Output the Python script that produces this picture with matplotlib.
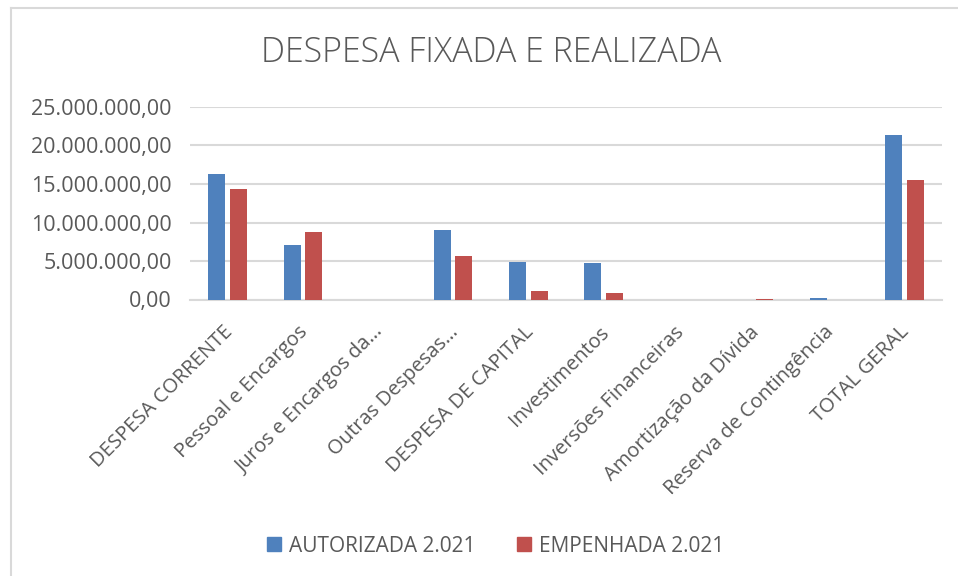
import matplotlib
matplotlib.use("Agg")
import matplotlib.pyplot as plt
from matplotlib.patches import Patch
from matplotlib.lines import Line2D
from matplotlib.transforms import ScaledTranslation
import numpy as np

categories = ["DESPESA CORRENTE", "Pessoal e Encargos", "Juros e Encargos da…",
              "Outras Despesas…", "DESPESA DE CAPITAL", "Investimentos",
              "Inversões Financeiras", "Amortização da Dívida",
              "Reserva de Contingência", "TOTAL GERAL"]
autorizada = [16.27e6, 7.14e6, 0.0, 9.04e6, 4.84e6, 4.71e6, 0.0, 0.0, 0.15e6, 21.3e6]
empenhada = [14.4e6, 8.74e6, 0.0, 5.71e6, 1.04e6, 0.86e6, 0.0, 0.05e6, 0.0, 15.5e6]
yticks = [0, 5e6, 10e6, 15e6, 20e6, 25e6]
series_names = ["AUTORIZADA 2.021", "EMPENHADA 2.021"]
title = "DESPESA FIXADA E REALIZADA"

BLUE = "#4F81BD"
RED = "#C0504D"
TXT = "#595959"
GRID = "#D9D9D9"

W, H = 958, 576
fig = plt.figure(figsize=(W / 100, H / 100), dpi=100)
fig.patch.set_facecolor("white")

# chart area border (left and top visible)
fig.add_artist(Line2D([11 / W, 11 / W], [0, 1 - 8 / H], transform=fig.transFigure,
                      color="#D9D9D9", lw=1.5))
fig.add_artist(Line2D([11 / W, 1], [1 - 8 / H, 1 - 8 / H], transform=fig.transFigure,
                      color="#D9D9D9", lw=1.5))

left, right = 190 / W, 942 / W
bottom = 1 - 299.5 / H
top = 1 - 107 / H
ax = fig.add_axes([left, bottom, right - left, top - bottom])

x = np.arange(len(categories))
bw = 0.225
off = 0.142
ax.bar(x - off, autorizada, bw, color=BLUE, zorder=3)
ax.bar(x + off, empenhada, bw, color=RED, zorder=3)

ax.set_xlim(-0.5, len(categories) - 0.5)
ax.set_ylim(0, 25e6)
ax.set_yticks(yticks)


def fmt(v):
    s = f"{v:,.2f}"
    return s.replace(",", "X").replace(".", ",").replace("X", ".")


ax.set_yticklabels([fmt(v) for v in yticks], fontsize=15.5, color=TXT,
                   fontfamily="Open Sans")
ax.yaxis.grid(True, color=GRID, lw=1.5, zorder=0)
ax.set_axisbelow(True)
for s in ["left", "right", "top"]:
    ax.spines[s].set_visible(False)
ax.spines["bottom"].set_color(GRID)
ax.spines["bottom"].set_linewidth(1.5)
ax.tick_params(axis="both", length=0)
ax.tick_params(axis="y", pad=13)

ax.set_xticks(x)
ax.set_xticklabels(categories, rotation=45, ha="right", va="top",
                   rotation_mode="anchor", fontsize=14.5, color=TXT,
                   fontfamily="Open Sans")
ax.tick_params(axis="x", pad=15)
shift = ScaledTranslation(-5 / 100, -2 / 100, fig.dpi_scale_trans)
for lab in ax.get_xticklabels():
    lab.set_transform(lab.get_transform() + shift)

fig.text(491 / W, 1 - 53 / H, title, ha="center", va="center", fontsize=24.5,
         color=TXT, fontfamily="Open Sans", fontweight="light")

handles = [Patch(color=BLUE), Patch(color=RED)]
fig.legend(handles, series_names, loc="center", bbox_to_anchor=(496 / W, 1 - 546 / H),
           ncol=2, frameon=False, labelcolor=TXT,
           handlelength=0.65, handleheight=0.65, handletextpad=0.4, columnspacing=2.0,
           prop={"family": "Open Sans", "size": 15})

fig.savefig("out.png", dpi=100, facecolor="white")
